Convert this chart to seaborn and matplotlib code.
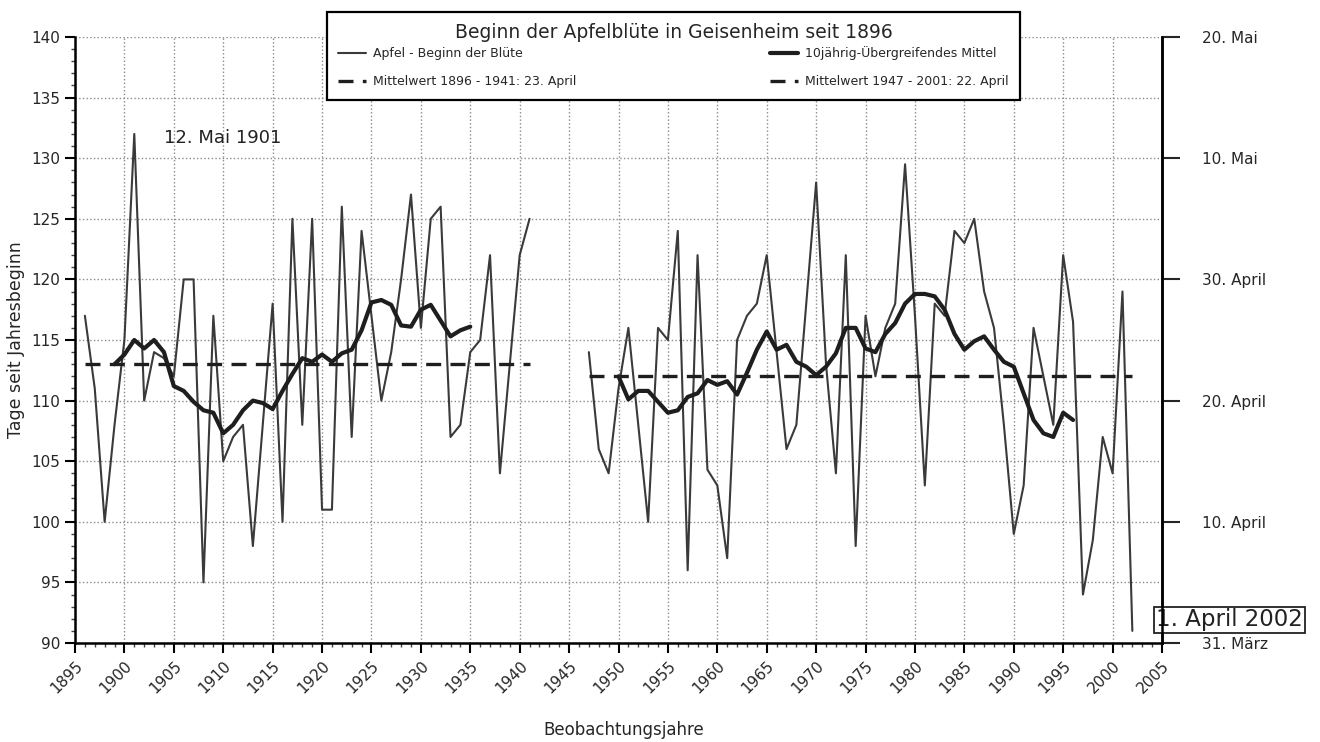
import numpy as np
import pandas as pd

import matplotlib
matplotlib.use('AGG')
import matplotlib.pyplot as plt
from matplotlib.ticker import MultipleLocator
import seaborn as sns
sns.set_theme(style="white", rc={
        "axes.edgecolor": "black",
        "axes.spines.top": False,
        "axes.spines.right": True})
plt.rcParams['font.family'] = ['DejaVu Sans']

# apple blossom start (days since 1 January), first observation period
years_1 = list(range(1896, 1942))
bloom_1 = [117, 111, 100, 108, 115, 132, 110, 114, 113.5, 112,
           120, 120, 95, 117, 105, 107, 108, 98, 108, 118,
           100, 125, 108, 125, 101, 101, 126, 107, 124, 117,
           110, 114, 120, 127, 116, 125, 126, 107, 108, 114,
           115, 122, 104, 113, 122, 125]

# second observation period
years_2 = list(range(1947, 2003))
bloom_2 = [114, 106, 104, 111, 116, 108, 100, 116, 115, 124,
           96, 122, 104.3, 103, 97, 115, 117, 118, 122, 114,
           106, 108, 118, 128, 113, 104, 122, 98, 117, 112,
           116, 118, 129.5, 117, 103, 118, 117, 124, 123, 125,
           119, 116, 108, 99, 103, 116, 112, 108, 122, 116.5,
           94, 98.5, 107, 104, 119, 91]

# 10-year running mean as drawn in the original
smooth_years_1 = list(range(1899, 1936))
smooth_1 = [113.0, 113.8, 115.0, 114.3, 115.0, 114.0, 111.2, 110.8, 109.9, 109.2,
            109.0, 107.3, 108.0, 109.2, 110.0, 109.8, 109.3, 110.8, 112.2, 113.5,
            113.2, 113.8, 113.2, 113.9, 114.2, 115.8, 118.1, 118.3, 117.9, 116.2,
            116.1, 117.5, 117.9, 116.6, 115.3, 115.8, 116.1]
smooth_years_2 = list(range(1950, 1997))
smooth_2 = [112.0, 110.1, 110.8, 110.8, 109.9, 109.0, 109.2, 110.3, 110.6, 111.7,
            111.3, 111.6, 110.5, 112.3, 114.2, 115.7, 114.2, 114.6, 113.2, 112.8,
            112.1, 112.8, 113.9, 116.0, 116.0, 114.3, 114.0, 115.5, 116.4, 118.0,
            118.8, 118.8, 118.6, 117.5, 115.5, 114.2, 114.9, 115.3, 114.2, 113.2,
            112.8, 110.6, 108.4, 107.3, 107.0, 109.0, 108.4]

# period means
mean_years_1 = [1896, 1941]
mean_1 = [113, 113]
mean_years_2 = [1947, 2002]
mean_2 = [112, 112]

right_ticks = [140, 130, 120, 110, 100, 90]
right_labels = ['20. Mai', '10. Mai', '30. April', '20. April', '10. April', '31. März']

df_b1 = pd.DataFrame({'jahr': years_1, 'tag': bloom_1})
df_b2 = pd.DataFrame({'jahr': years_2, 'tag': bloom_2})
df_s1 = pd.DataFrame({'jahr': smooth_years_1, 'tag': smooth_1})
df_s2 = pd.DataFrame({'jahr': smooth_years_2, 'tag': smooth_2})
df_m1 = pd.DataFrame({'jahr': mean_years_1, 'tag': mean_1})
df_m2 = pd.DataFrame({'jahr': mean_years_2, 'tag': mean_2})

fig = plt.figure(figsize=(13.2, 7.42), dpi=100)
ax = fig.add_axes([75/1320, 1 - 643/742, (1162 - 75)/1320, (643 - 37)/742])

thin = dict(color='#3a3a3a', linewidth=1.5)
thick = dict(color='#1e1e1e', linewidth=3.0)
dash = dict(color='#1e1e1e', linewidth=2.4, linestyle=(0, (4.5, 2.8)))

sns.lineplot(data=df_b1, x='jahr', y='tag', ax=ax, label='Apfel - Beginn der Blüte', legend=False, **thin)
sns.lineplot(data=df_b2, x='jahr', y='tag', ax=ax, legend=False, **thin)
sns.lineplot(data=df_m1, x='jahr', y='tag', ax=ax, label='Mittelwert 1896 - 1941: 23. April', legend=False, **dash)
sns.lineplot(data=df_s1, x='jahr', y='tag', ax=ax, label='10jährig-Übergreifendes Mittel', legend=False, **thick)
sns.lineplot(data=df_s2, x='jahr', y='tag', ax=ax, legend=False, **thick)
sns.lineplot(data=df_m2, x='jahr', y='tag', ax=ax, label='Mittelwert 1947 - 2001: 22. April', legend=False, **dash)

ax.set_xlim(1895, 2005)
ax.set_ylim(90, 140)
ax.xaxis.set_major_locator(MultipleLocator(5))
ax.xaxis.set_minor_locator(MultipleLocator(1))
ax.yaxis.set_major_locator(MultipleLocator(5))
ax.yaxis.set_minor_locator(MultipleLocator(1))
ax.grid(True, which='major', linestyle=':', color='#8a8a8a', linewidth=1.0)
ax.tick_params(axis='both', which='major', direction='out', length=7, width=1.5,
               color='black', labelsize=11, bottom=True, left=True)
ax.tick_params(axis='both', which='minor', direction='out', length=3, width=1,
               color='#444444', bottom=True, left=True)
ax.tick_params(axis='x', which='major', labelrotation=45, pad=4)
for lab in ax.get_xticklabels():
    lab.set_horizontalalignment('right')
    lab.set_rotation_mode('anchor')
for side in ['left', 'bottom', 'right']:
    ax.spines[side].set_linewidth(1.8)
    ax.spines[side].set_color('black')

ax.set_xlabel('Beobachtungsjahre', fontsize=12)
ax.set_ylabel('Tage seit Jahresbeginn', fontsize=12.5)
ax.xaxis.set_label_coords(0.505, -0.128)
ax.yaxis.set_label_coords(-0.046, 0.5)

# date axis on the right
ax2 = ax.twinx()
ax2.set_ylim(ax.get_ylim())
ax2.set_yticks(right_ticks)
ax2.set_yticklabels(right_labels, fontsize=11)
ax2.tick_params(axis='y', direction='out', length=13, width=1.5, pad=16, right=True)
for side in ['left', 'bottom', 'top']:
    ax2.spines[side].set_visible(False)
ax2.spines['right'].set_linewidth(1.8)
ax2.grid(False)

ax.text(1904.0, 131.7, '12. Mai 1901', fontsize=13, va='center', ha='left', color='#222222')
ax.text(2004.4, 91.9, '1. April 2002', fontsize=16.5, va='center', ha='left', color='#222222',
        clip_on=False,
        bbox=dict(boxstyle='square,pad=0.08', facecolor='white', edgecolor='#222222', linewidth=1.3))

handles, labels = ax.get_legend_handles_labels()
leg = fig.legend(handles, labels, ncol=2, mode='expand', loc='upper left',
                 bbox_to_anchor=(327/1320, 1 - 100/742, (1020 - 327)/1320, 88/742),
                 title='Beginn der Apfelblüte in Geisenheim seit 1896',
                 title_fontsize=13.5, fontsize=9, frameon=True, fancybox=False,
                 edgecolor='black', framealpha=1, handlelength=2.2, handletextpad=0.6,
                 labelspacing=1.2, borderpad=0.9, borderaxespad=0)
leg.get_frame().set_linewidth(1.6)
leg._legend_box.sep = 3

fig.savefig('out.png', dpi=100, facecolor='white')
